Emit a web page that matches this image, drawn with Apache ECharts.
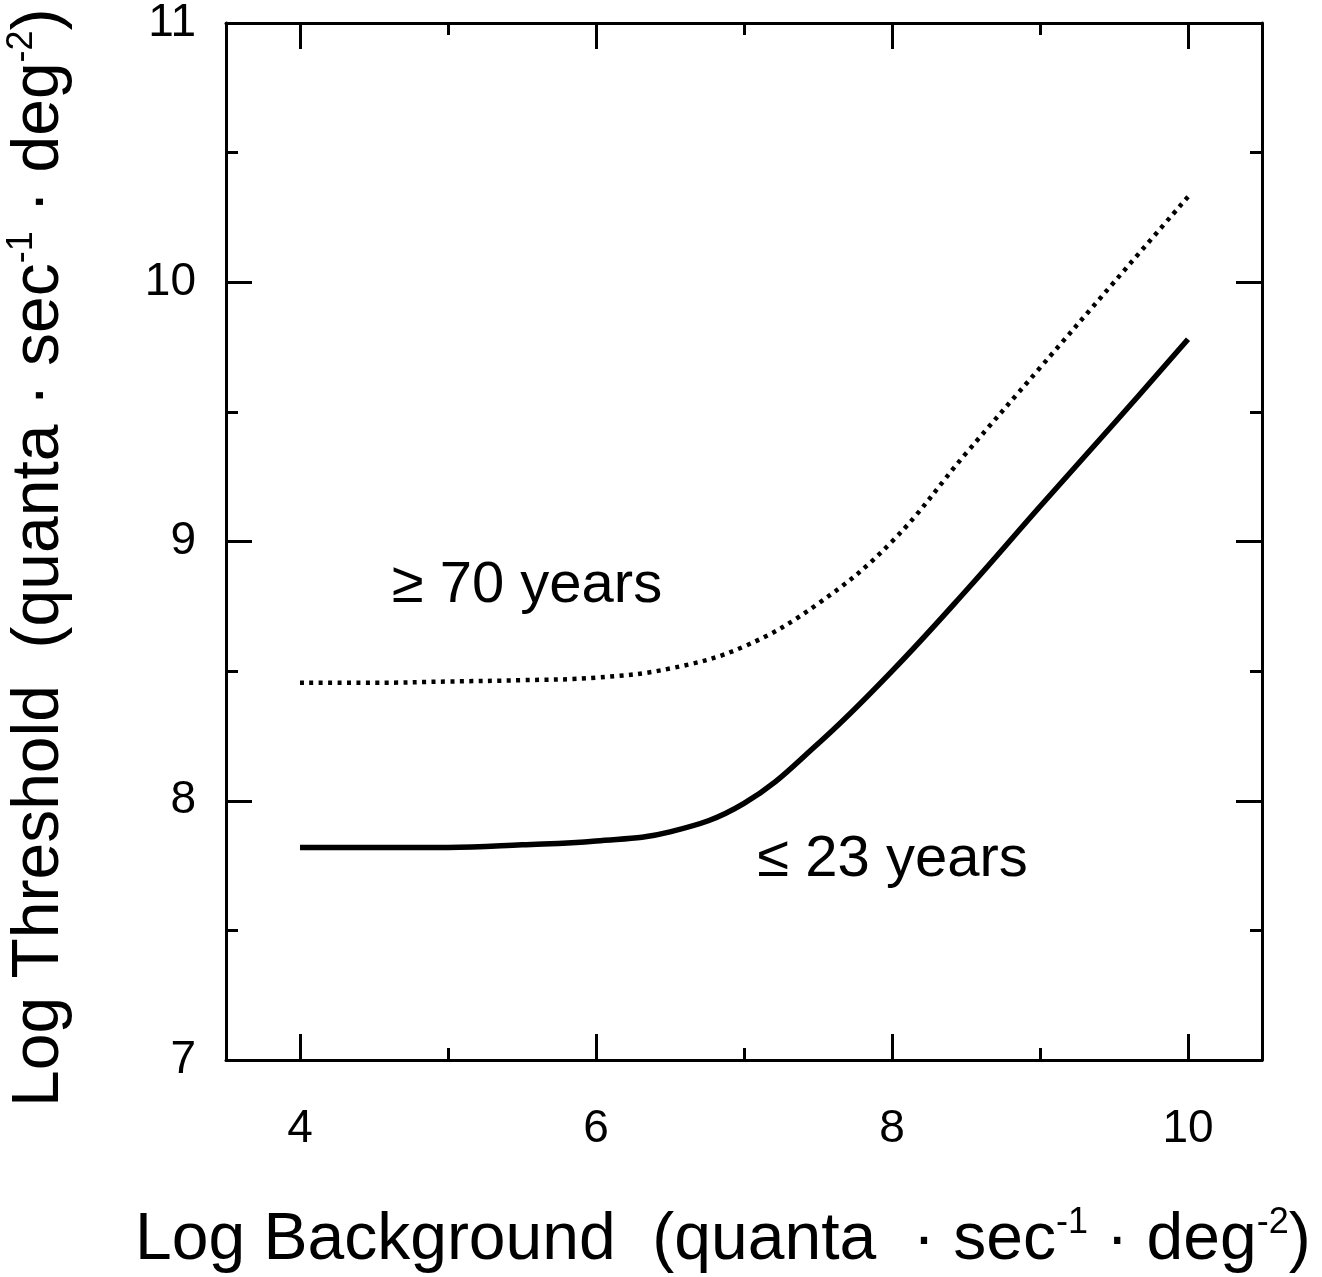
<!DOCTYPE html>
<html>
<head>
<meta charset="utf-8">
<script src="https://cdn.jsdelivr.net/npm/echarts@6/dist/echarts.min.js"></script>
<style>
  html, body { margin: 0; padding: 0; background: #fff; }
  #thresholdChart { width: 1322px; height: 1277px; }
</style>
</head>
<body>
<div id="thresholdChart"></div>
<script>
// log background values (x)
var background = [4, 4.5, 5, 5.5, 6, 6.5, 7, 7.5, 8, 8.5, 9, 9.5, 10];
// <= 23 years (solid)
var young = [7.82, 7.82, 7.82, 7.83, 7.845, 7.88, 7.99, 8.22, 8.5, 8.81, 9.135, 9.455, 9.78];
// >= 70 years (dotted)
var old = [8.455, 8.455, 8.46, 8.465, 8.475, 8.51, 8.595, 8.76, 9.0, 9.34, 9.67, 10.0, 10.33];

var xMajor = [4, 6, 8, 10];
var xMinor = [5, 7, 9];
var yMajor = [7, 8, 9, 10, 11];
var yMinor = [7.5, 8.5, 9.5, 10.5];

var font = "'Liberation Sans', Arial, Helvetica, sans-serif";

function pairs(xs, ys) {
  return xs.map(function (x, i) { return [x, ys[i]]; });
}

function xAxisOf(pos, ticks, len, withLine, withLabel) {
  return {
    type: "value", min: 3.5, max: 10.5, position: pos,
    splitLine: { show: false },
    axisLine: { show: withLine, onZero: false, lineStyle: { color: "#000", width: 3 } },
    axisTick: { show: true, inside: true, length: len, customValues: ticks, lineStyle: { color: "#000", width: 3 } },
    axisLabel: withLabel
      ? { show: true, customValues: ticks, margin: 46, color: "#000", fontSize: 46, fontFamily: font }
      : { show: false }
  };
}

function yAxisOf(pos, ticks, len, withLine, withLabel) {
  return {
    type: "value", min: 7, max: 11, position: pos,
    splitLine: { show: false },
    axisLine: { show: withLine, onZero: false, lineStyle: { color: "#000", width: 3 } },
    axisTick: { show: true, inside: true, length: len, customValues: ticks, lineStyle: { color: "#000", width: 3 } },
    axisLabel: withLabel
      ? { show: true, customValues: ticks, margin: 30, color: "#000", fontSize: 46, fontFamily: font }
      : { show: false }
  };
}

var rich = {
  t: { fontSize: 66, fontFamily: font, color: "#000", lineHeight: 72 },
  s: { fontSize: 36, fontFamily: font, color: "#000", lineHeight: 72, verticalAlign: "top" }
};

var myChart = echarts.init(document.getElementById("thresholdChart"));

var option = {
  backgroundColor: "#fff",
  animation: false,
  grid: { left: 226, right: 60, top: 22, bottom: 217 },
  xAxis: [
    xAxisOf("bottom", xMajor, 26, true, true),
    xAxisOf("bottom", xMinor, 12, false, false),
    xAxisOf("top", xMajor, 26, true, false),
    xAxisOf("top", xMinor, 12, false, false)
  ],
  yAxis: [
    yAxisOf("left", yMajor, 26, true, true),
    yAxisOf("left", yMinor, 12, false, false),
    yAxisOf("right", yMajor, 26, true, false),
    yAxisOf("right", yMinor, 12, false, false)
  ],
  graphic: [
    {
      type: "text", left: 135, top: 1205,
      style: {
        text: "{t|Log Background  (quanta  · sec}{s|-1}{t| · deg}{s|-2}{t|)}",
        rich: rich
      }
    },
    {
      type: "text", x: 4, y: 1107, rotation: Math.PI / 2,
      style: {
        text: "{t|Log Threshold  (quanta · sec}{s|-1}{t| · deg}{s|-2}{t|)}",
        rich: rich
      }
    }
  ],
  series: [
    {
      name: "<= 23 years",
      type: "line",
      data: pairs(background, young),
      smooth: 0.4,
      symbol: "none",
      lineStyle: { color: "#000", width: 5.5 },
      markPoint: {
        symbol: "circle", symbolSize: 0,
        label: { show: true, position: "right", distance: 0, formatter: "≤ 23 years", color: "#000", fontSize: 58, fontFamily: font },
        data: [{ coord: [7.09, 7.77] }]
      }
    },
    {
      name: ">= 70 years",
      type: "line",
      data: pairs(background, old),
      smooth: 0.4,
      symbol: "none",
      lineStyle: { color: "#000", width: 4.5, type: [4, 5.4] },
      markPoint: {
        symbol: "circle", symbolSize: 0,
        label: { show: true, position: "right", distance: 0, formatter: "≥ 70 years", color: "#000", fontSize: 58, fontFamily: font },
        data: [{ coord: [4.62, 8.83] }]
      }
    }
  ]
};

myChart.setOption(option);
</script>
</body>
</html>
